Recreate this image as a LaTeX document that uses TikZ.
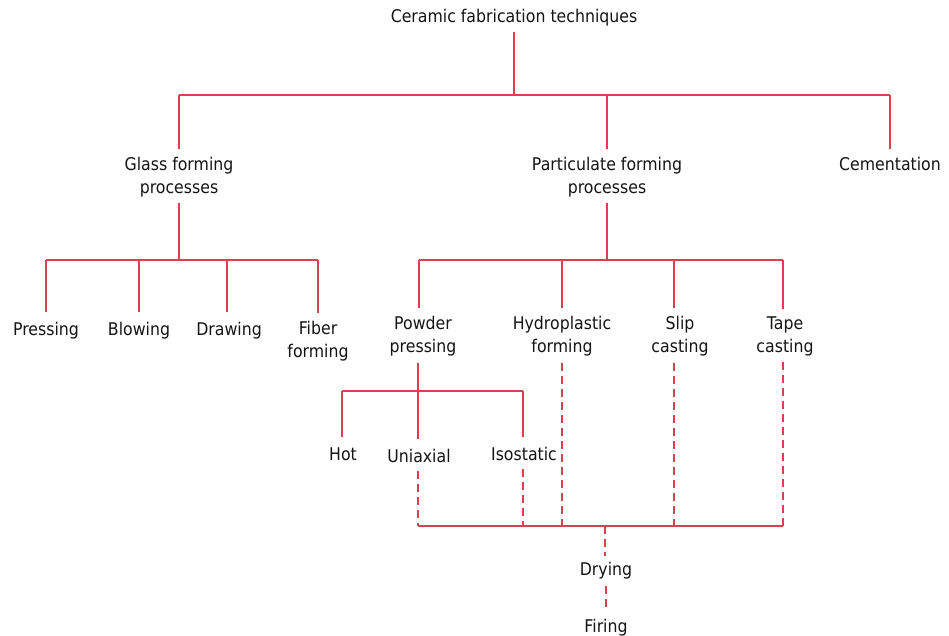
\documentclass[tikz,border=0pt]{standalone}
\usepackage{fontspec}
\setmainfont{DejaVu Sans}[FakeStretch=0.9]
\definecolor{ln}{RGB}{218,64,82}
\begin{document}
\begin{tikzpicture}[x=1pt,y=-1pt,
  lbl/.style={font=\fontsize{17.5}{23}\selectfont, align=center, inner sep=0pt, text=black!92},
  one/.style={lbl, text height=12.8pt, text depth=4.2pt},
  conn/.style={draw=ln, line width=2pt},
  dsh/.style={conn, dash pattern=on 8pt off 5pt},
]
\useasboundingbox (0,0) rectangle (949,636);

% nodes
\node[one] (title) at (514,18) {Ceramic fabrication techniques};
\node[lbl] (glass) at (179,177) {Glass forming\\processes};
\node[lbl] (part) at (607,177) {Particulate forming\\processes};
\node[one] (cem) at (890,166) {Cementation};
\node[one] (press) at (46,331) {Pressing};
\node[one] (blow) at (139,331) {Blowing};
\node[one] (drw) at (229,331) {Drawing};
\node[lbl] (fiber) at (318,341.5) {Fiber\\forming};
\node[lbl] (powder) at (423,336.5) {Powder\\pressing};
\node[lbl] (hydro) at (562,336.5) {Hydroplastic\\forming};
\node[lbl] (slip) at (680,336.5) {Slip\\casting};
\node[lbl] (tape) at (785,336.5) {Tape\\casting};
\node[one] (hot) at (343,456) {Hot};
\node[one] (uni) at (419,458) {Uniaxial};
\node[one] (iso) at (524,456) {Isostatic};
\node[one] (dry) at (606,571) {Drying};
\node[one] (fire) at (606,628) {Firing};

% junction coordinates
\coordinate (b0) at (514,95);
\coordinate (b1) at (179,260);
\coordinate (b2) at (606,260);
\coordinate (b3) at (418,391);
\coordinate (b4) at (605,526);
\coordinate (d1) at (419,260);
\coordinate (d2) at (562,260);
\coordinate (d3) at (674,260);
\coordinate (d4) at (783,260);

% level 1
\draw[conn, shorten <=5pt] (title) -- (b0);
\draw[conn] (glass |- b0) -- (cem |- b0);
\foreach \n in {glass,part,cem}
  \draw[conn, shorten >=8pt] (\n |- b0) -- (\n);

% glass forming
\draw[conn, shorten <=6pt] (glass) -- (b1);
\draw[conn] (press |- b1) -- (fiber |- b1);
\draw[conn, shorten >=10pt] (press |- b1) -- (press);
\draw[conn, shorten >=10pt] (blow |- b1) -- (blow);
\draw[conn, shorten >=10pt] (227,260) -- (227,260 |- drw.north);
\draw[conn, shorten >=8pt] (fiber |- b1) -- (fiber);

% particulate forming
\draw[conn, shorten <=6pt] (part) -- (part |- b2);
\draw[conn] (d1) -- (d4);
\draw[conn, shorten >=8pt] (d1) -- (d1 |- powder.north);
\draw[conn, shorten >=8pt] (d2) -- (d2 |- hydro.north);
\draw[conn, shorten >=8pt] (d3) -- (d3 |- slip.north);
\draw[conn, shorten >=8pt] (d4) -- (d4 |- tape.north);

% powder pressing
\draw[conn, shorten <=6pt] (b3 |- powder.south) -- (b3);
\draw[conn] (342,391) -- (523,391);
\draw[conn, shorten >=10pt] (342,391) -- (342,391 |- hot.north);
\draw[conn, shorten >=10pt] (b3) -- (b3 |- uni.north);
\draw[conn, shorten >=10pt] (523,391) -- (523,391 |- iso.north);

% dashed to drying
\draw[dsh, shorten <=4pt] (b3 |- uni.south) -- (b3 |- b4);
\draw[dsh, shorten <=4pt] (523,0 |- iso.south) -- (523,0 |- b4);
\draw[dsh, shorten <=6pt] (d2 |- hydro.south) -- (d2 |- b4);
\draw[dsh, shorten <=6pt] (d3 |- slip.south) -- (d3 |- b4);
\draw[dsh, shorten <=6pt] (d4 |- tape.south) -- (d4 |- b4);
\draw[conn] (b3 |- b4) -- (d4 |- b4);
\draw[dsh, shorten >=6pt] (b4) -- (b4 |- dry.north);
\draw[dsh, shorten <=6pt, shorten >=10pt] (dry) -- (fire);
\end{tikzpicture}
\end{document}
